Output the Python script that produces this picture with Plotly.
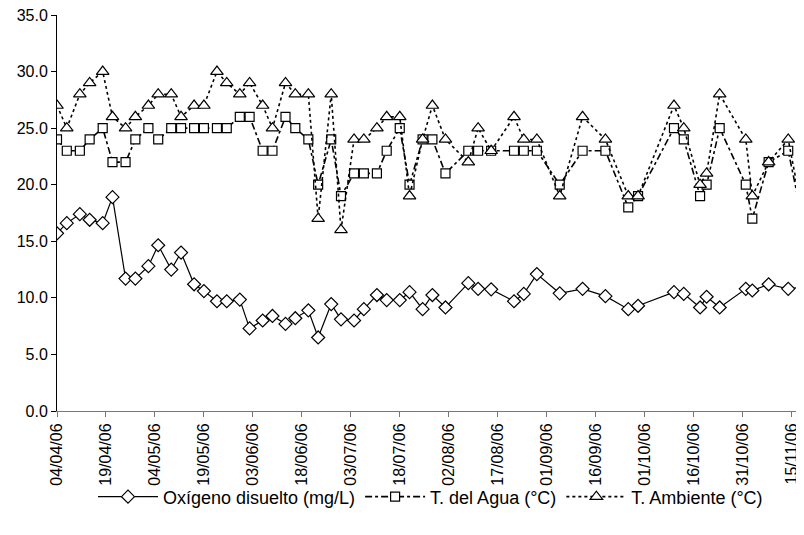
import plotly.graph_objects as go

dates = ["2006-04-04", "2006-04-07", "2006-04-11", "2006-04-14", "2006-04-18", "2006-04-21",
         "2006-04-25", "2006-04-28", "2006-05-02", "2006-05-05", "2006-05-09", "2006-05-12",
         "2006-05-16", "2006-05-19", "2006-05-23", "2006-05-26", "2006-05-30", "2006-06-02",
         "2006-06-06", "2006-06-09", "2006-06-13", "2006-06-16", "2006-06-20", "2006-06-23",
         "2006-06-27", "2006-06-30", "2006-07-04", "2006-07-07", "2006-07-11", "2006-07-14",
         "2006-07-18", "2006-07-21", "2006-07-25", "2006-07-28", "2006-08-01", "2006-08-08",
         "2006-08-11", "2006-08-15", "2006-08-22", "2006-08-25", "2006-08-29", "2006-09-05",
         "2006-09-12", "2006-09-19", "2006-09-26", "2006-09-29", "2006-10-10", "2006-10-13",
         "2006-10-18", "2006-10-20", "2006-10-24", "2006-11-01", "2006-11-03", "2006-11-08",
         "2006-11-14", "2006-11-20"]

oxigeno = [15.7, 16.6, 17.4, 16.9, 16.6, 18.9,
           11.7, 11.7, 12.8, 14.65, 12.5, 14.0,
           11.2, 10.6, 9.7, 9.7, 9.85, 7.3,
           8.0, 8.4, 7.7, 8.2, 8.9, 6.5,
           9.45, 8.1, 8.0, 9.0, 10.25, 9.8,
           9.8, 10.5, 9.0, 10.25, 9.15, 11.3,
           10.8, 10.75, 9.7, 10.35, 12.1, 10.4,
           10.8, 10.15, 9.0, 9.3, 10.5, 10.35,
           9.15, 10.1, 9.15, 10.8, 10.65, 11.2,
           10.8, 11.0]

t_agua = [24, 23, 23, 24, 25, 22,
          22, 24, 25, 24, 25, 25,
          25, 25, 25, 25, 26, 26,
          23, 23, 26, 25, 24, 20,
          24, 19, 21, 21, 21, 23,
          25, 20, 24, 24, 21, 23,
          23, 23, 23, 23, 23, 20,
          23, 23, 18, 19, 25, 24,
          19, 20, 25, 20, 17, 22,
          23, 14.6]

t_ambiente = [27, 25, 28, 29, 30, 26,
              25, 26, 27, 28, 28, 26,
              27, 27, 30, 29, 28, 29,
              27, 25, 29, 28, 28, 17,
              28, 16, 24, 24, 25, 26,
              26, 19, 24, 27, 24, 22,
              25, 23, 26, 24, 24, 19,
              26, 24, 19, 19, 27, 25,
              20, 21, 28, 24, 19, 22,
              24, 15.0]

names = ["Oxígeno disuelto (mg/L)", "T. del Agua (°C)", "T. Ambiente (°C)"]

FONT = "Liberation Sans, Arial, sans-serif"

fig = go.Figure()
fig.add_trace(go.Scatter(
    x=dates, y=oxigeno, name=names[0], mode="lines+markers",
    line=dict(color="black", width=1.2),
    marker=dict(symbol="diamond", size=10, color="white", line=dict(color="black", width=1.2)),
))
fig.add_trace(go.Scatter(
    x=dates, y=t_agua, name=names[1], mode="lines+markers",
    line=dict(color="black", width=1.6, dash="7px,3px,3px,3px"),
    marker=dict(symbol="square", size=9, color="white", line=dict(color="black", width=1.2)),
))
fig.add_trace(go.Scatter(
    x=dates, y=t_ambiente, name=names[2], mode="lines+markers",
    line=dict(color="black", width=1.6, dash="3px,3px"),
    marker=dict(symbol="triangle-up", size=11, color="white", line=dict(color="black", width=1.2)),
))

# the page body has an 8px margin, so the figure is sized to fit the window
fig.update_layout(
    width=796, height=527,
    margin=dict(l=49, r=0, t=7, b=124),
    paper_bgcolor="white", plot_bgcolor="white",
    font=dict(family=FONT, size=16, color="black"),
    showlegend=True,
    legend=dict(orientation="h", x=0.5, xanchor="center", y=-0.217, yanchor="middle",
                font=dict(family=FONT, size=18, color="black"), itemwidth=60,
                bgcolor="rgba(0,0,0,0)", traceorder="normal"),
    xaxis=dict(
        type="date", automargin=False,
        range=["2006-04-04", "2006-11-18 20:00"],
        tick0="2006-04-04", dtick=15 * 86400000,
        tickformat="%d/%m/%y", tickangle=-90,
        showgrid=False, zeroline=False,
        showline=True, linecolor="#777777", linewidth=1,
        ticks="outside", ticklen=5, tickcolor="#777777",
        ticklabeloverflow="allow",
        tickfont=dict(family=FONT, size=16, color="black"),
    ),
    yaxis=dict(
        automargin=False,
        range=[0, 35], dtick=5, tickformat=".1f",
        showgrid=False, zeroline=False,
        showline=True, linecolor="black", linewidth=1,
        ticks="outside", ticklen=5, tickcolor="black",
        ticklabeloverflow="allow",
        tickfont=dict(family=FONT, size=16, color="black"),
    ),
)

fig.write_html("out.html")
